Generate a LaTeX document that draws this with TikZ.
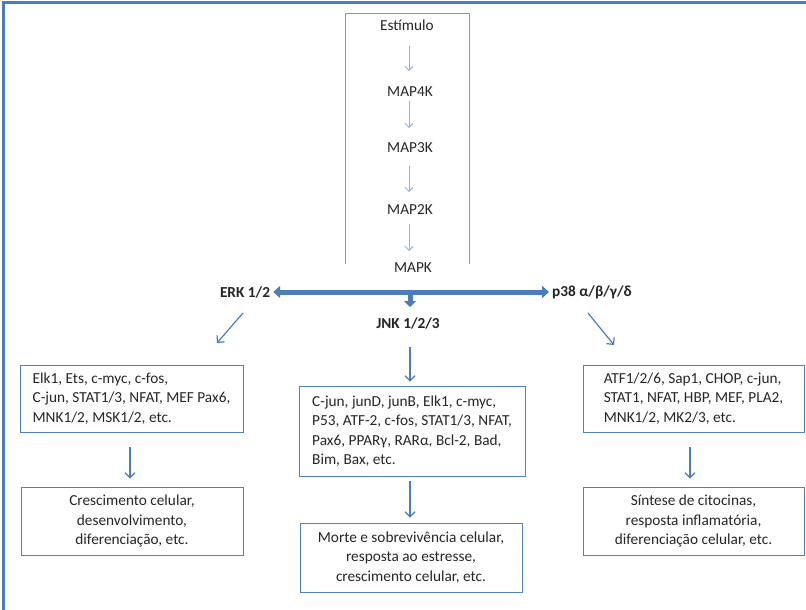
\documentclass[tikz,border=0pt]{standalone}
\usepackage{fontspec}
\setmainfont{Carlito}
\usetikzlibrary{arrows.meta,calc}
\definecolor{frameblue}{RGB}{74,126,187}
\definecolor{boxblue}{RGB}{79,129,189}
\definecolor{arrblue}{RGB}{74,126,187}
\definecolor{lightarr}{RGB}{149,179,215}
\definecolor{colgray}{RGB}{150,150,150}
\definecolor{txt}{RGB}{38,38,38}
\tikzset{
  lbl/.style={inner sep=0pt, text=txt},
  blbl/.style={inner sep=0pt, text=txt, font=\fontsize{15.3}{19.5}\selectfont\bfseries},
  infobox/.style={draw=boxblue, line width=0.9pt, inner xsep=8pt, inner ysep=4pt, text=txt, align=left},
  resbox/.style={draw=boxblue, line width=0.9pt, inner xsep=8pt, inner ysep=4pt, text=txt, align=center},
  smallarr/.style={draw=lightarr, line width=0.9pt, -{Straight Barb[length=4pt,width=8pt]}},
  bluearr/.style={draw=arrblue, line width=1.2pt, -{Straight Barb[length=5pt,width=10pt]}},
  fatarr/.style={draw=arrblue, line width=5pt, {Triangle[length=7pt,width=12pt]}-{Triangle[length=7pt,width=12pt]}},
  fatdown/.style={draw=arrblue, line width=5pt, -{Triangle[length=6pt,width=12pt]}},
  framestyle/.style={draw=frameblue, line width=3pt},
  colbox/.style={draw=colgray, line width=0.8pt}
}
\begin{document}
\begin{tikzpicture}[x=1pt,y=-1pt, font=\fontsize{15.3}{19.5}\selectfont]
\useasboundingbox (0,0) rectangle (806,610);
\fill[white] (0,0) rectangle (806,610);
% frame
\draw[framestyle] (3.5,610) -- (3.5,3) -- (806,3);
% central column box (open bottom)
\draw[colbox] (345,264) -- (345,13) -- (469,13) -- (469,264);
% column labels
\node[lbl] (est) at (407,25) {Estímulo};
\node[lbl] (m4) at (410,92) {MAP4K};
\node[lbl] (m3) at (410,148) {MAP3K};
\node[lbl] (m2) at (410,210) {MAP2K};
\node[lbl] (mk) at (413,268) {MAPK};
\draw[smallarr] ($(est.center)+(2,21)$) -- ($(m4.center)+(-1,-21)$);
\draw[smallarr] ($(m4.center)+(-1,9)$) -- ($(m3.center)+(-1,-20)$);
\draw[smallarr] ($(m3.center)+(-1,18)$) -- ($(m2.center)+(-1,-18)$);
\draw[smallarr] ($(m2.center)+(-1,14)$) -- ($(mk.center)+(-4,-17)$);
% branch labels
\node[blbl] (erk) at (245,292) {ERK 1/2};
\node[blbl] (p38) at (592,292) {p38 α/β/γ/δ};
\node[blbl] (jnk) at (408,323) {JNK 1/2/3};
\coordinate (hub) at (410,292);
\coordinate (hubend) at (410,307);
\draw[fatarr, shorten <=3pt, shorten >=3pt] (erk.east) -- (p38.west);
\draw[fatdown] (hub) -- (hubend);
% target boxes
\node[infobox, minimum width=223pt, minimum height=67pt] (topL) at (131.5,398.5)
  {Elk1, Ets, c-myc, c-fos,\\C-jun, STAT1/3, NFAT, MEF Pax6,\\MNK1/2, MSK1/2, etc.};
\node[infobox, minimum width=226pt, minimum height=90pt] (topC) at (412,431)
  {C-jun, junD, junB, Elk1, c-myc,\\P53, ATF-2, c-fos, STAT1/3, NFAT,\\Pax6, PPARγ, RARα, Bcl-2, Bad,\\Bim, Bax, etc.};
\node[infobox, minimum width=221pt, minimum height=67pt] (topR) at (693.5,398.5)
  {ATF1/2/6, Sap1, CHOP, c-jun,\\STAT1, NFAT, HBP, MEF, PLA2,\\MNK1/2, MK2/3, etc.};
% result boxes
\node[resbox, minimum width=222pt, minimum height=68pt] (botL) at (132,521)
  {Crescimento celular,\\desenvolvimento,\\diferenciação, etc.};
\node[resbox, minimum width=222pt, minimum height=69pt] (botC) at (411,557.5)
  {Morte e sobrevivência celular,\\resposta ao estresse,\\crescimento celular, etc.};
\node[resbox, minimum width=221pt, minimum height=68pt] (botR) at (693.5,521)
  {Síntese de citocinas,\\resposta inflamatória,\\diferenciação celular, etc.};
% arrows
\draw[bluearr] ($(erk.center)+(-2,21)$) -- ($(erk.center)+(-28,51)$);
\draw[bluearr] ($(p38.center)+(-4,21)$) -- ($(p38.center)+(22,53)$);
\draw[bluearr] ($(jnk.center)+(2,24)$) -- ($(topC.north)+(-2,-4)$);
\draw[bluearr] ($(topL.south)+(-1.5,15)$) -- ($(botL.north)+(-2,-8)$);
\draw[bluearr] ($(topC.south)+(-2,5)$) -- ($(botC.north)+(-1,-5)$);
\draw[bluearr] ($(topR.south)+(-3.5,15)$) -- ($(botR.north)+(-3.5,-8)$);
\end{tikzpicture}
\end{document}
